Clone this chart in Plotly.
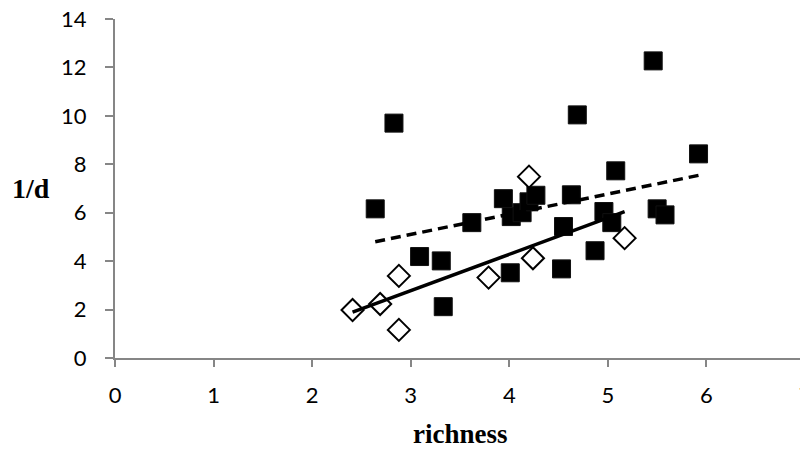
import numpy as np
import plotly.graph_objects as go

# filled squares series
sq_x = [2.64, 2.83, 3.09, 3.31, 3.33, 3.62, 3.94, 4.02, 4.13, 4.20, 4.27, 4.01,
        4.53, 4.55, 4.63, 4.69, 4.87, 4.96, 5.04, 5.08, 5.46, 5.50, 5.58, 5.92]
sq_y = [6.16, 9.70, 4.19, 4.01, 2.12, 5.59, 6.58, 5.84, 6.00, 6.45, 6.72, 3.52,
        3.68, 5.43, 6.74, 10.04, 4.43, 6.05, 5.59, 7.73, 12.27, 6.16, 5.91, 8.43]

# open diamonds series
dm_x = [2.41, 2.69, 2.88, 2.88, 3.79, 4.20, 4.24, 5.17]
dm_y = [1.98, 2.23, 3.39, 1.16, 3.32, 7.49, 4.12, 4.95]

x_ticks = [0, 1, 2, 3, 4, 5, 6, 7]
y_ticks = [0, 2, 4, 6, 8, 10, 12, 14]

x_title = "richness"
y_title = "1/d"


def fit_line(xs, ys):
    xs = np.asarray(xs)
    ys = np.asarray(ys)
    m, b = np.polyfit(xs, ys, 1)
    lx = np.array([xs.min(), xs.max()])
    return lx, m * lx + b


fig = go.Figure()

sx, sy = fit_line(sq_x, sq_y)
dx, dy = fit_line(dm_x, dm_y)

fig.add_trace(go.Scatter(
    x=sq_x, y=sq_y, mode="markers",
    marker=dict(symbol="square", size=18, color="black",
                line=dict(color="#111", width=1)),
    showlegend=False, cliponaxis=False))
fig.add_trace(go.Scatter(
    x=dm_x, y=dm_y, mode="markers",
    marker=dict(symbol="diamond", size=17, color="white",
                line=dict(color="black", width=2)),
    showlegend=False, cliponaxis=False))
fig.add_trace(go.Scatter(
    x=sx, y=sy, mode="lines",
    line=dict(color="black", width=3.5, dash="10px,6px"),
    showlegend=False))
fig.add_trace(go.Scatter(
    x=dx, y=dy, mode="lines",
    line=dict(color="black", width=3.5),
    showlegend=False))

tick_font = dict(family="Lato, 'Open Sans', sans-serif", size=22, color="black")
title_font = dict(family="'Liberation Serif', 'Times New Roman', serif",
                  size=28, color="black")

# the page places the figure 8px in from the window's top-left corner
W, H = 820, 443
L, R, T, B = 107, 23, 11, 93
PW = W - L - R
PH = H - T - B

fig.update_layout(
    width=W, height=H,
    margin=dict(l=L, r=R, t=T, b=B, autoexpand=False),
    paper_bgcolor="white", plot_bgcolor="white",
    xaxis=dict(range=[0, 7], tickvals=x_ticks, showgrid=False, zeroline=False,
               showline=True, linecolor="#868686", linewidth=2,
               ticks="outside", ticklen=7, tickcolor="#868686", tickwidth=2,
               tickfont=tick_font, ticklabelstandoff=10, automargin=False),
    yaxis=dict(range=[0, 14], tickvals=y_ticks, showgrid=False, zeroline=False,
               showline=True, linecolor="#868686", linewidth=2,
               ticks="outside", ticklen=8, tickcolor="#868686", tickwidth=2,
               tickfont=tick_font, ticklabelstandoff=14,
               ticklabeloverflow="allow", automargin=False),
    annotations=[
        dict(text="<b>" + y_title + "</b>", xref="paper", yref="paper",
             x=(23 - L) / PW, y=0.5, xanchor="center", yanchor="middle",
             showarrow=False, font=title_font),
        dict(text="<b>" + x_title + "</b>", xref="paper", yref="paper",
             x=(460 - 8 - L) / PW, y=-(426 - (H - B)) / PH,
             xanchor="center", yanchor="middle",
             showarrow=False, font=dict(title_font, size=27)),
    ],
)

fig.write_html("out.html")
